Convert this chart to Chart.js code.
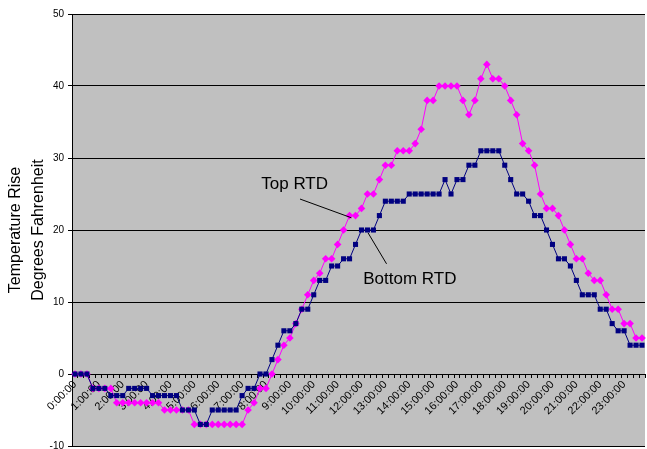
<!DOCTYPE html>
<html>
<head>
<meta charset="utf-8">
<script src="https://cdn.jsdelivr.net/npm/chart.js@4"></script>
<style>
  html, body { margin: 0; padding: 0; background: #fff; }
  canvas { display: block; }
</style>
</head>
<body>
<canvas id="rtdChart" width="647" height="449"></canvas>
<script>
// hour tick labels (one per 4 quarter-hour readings)
var hourLabels = [
  "0:00:00", "1:00:00", "2:00:00", "3:00:00", "4:00:00", "5:00:00",
  "6:00:00", "7:00:00", "8:00:00", "9:00:00", "10:00:00", "11:00:00",
  "12:00:00", "13:00:00", "14:00:00", "15:00:00", "16:00:00", "17:00:00",
  "18:00:00", "19:00:00", "20:00:00", "21:00:00", "22:00:00", "23:00:00"
];
var quarterMinutes = ["00", "15", "30", "45"];

// readings every 15 minutes, degrees F rise
var bottomRtd = [
  0, 0, 0, -2, -2, -2, -3, -3, -3, -2, -2, -2,
  -2, -3, -3, -3, -3, -3, -5, -5, -5, -7, -7, -5,
  -5, -5, -5, -5, -3, -2, -2, 0, 0, 2, 4, 6,
  6, 7, 9, 9, 11, 13, 13, 15, 15, 16, 16, 18,
  20, 20, 20, 22, 24, 24, 24, 24, 25, 25, 25, 25,
  25, 25, 27, 25, 27, 27, 29, 29, 31, 31, 31, 31,
  29, 27, 25, 25, 24, 22, 22, 20, 18, 16, 16, 15,
  13, 11, 11, 11, 9, 9, 7, 6, 6, 4, 4, 4
];
var topRtd = [
  0, 0, 0, -2, -2, -2, -2, -4, -4, -4, -4, -4,
  -4, -4, -4, -5, -5, -5, -5, -5, -7, -7, -7, -7,
  -7, -7, -7, -7, -7, -5, -4, -2, -2, 0, 2, 4,
  5, 7, 9, 11, 13, 14, 16, 16, 18, 20, 22, 22,
  23, 25, 25, 27, 29, 29, 31, 31, 31, 32, 34, 38,
  38, 40, 40, 40, 40, 38, 36, 38, 41, 43, 41, 41,
  40, 38, 36, 32, 31, 29, 25, 23, 23, 22, 20, 18,
  16, 16, 14, 13, 13, 11, 9, 9, 7, 7, 5, 5
];

var yTitle = ["Temperature Rise", "Degrees Fahrenheit"];

// categories: every quarter hour
var times = [];
hourLabels.forEach(function (h) {
  var hh = h.split(":")[0];
  quarterMinutes.forEach(function (m) {
    times.push(hh + ":" + m + ":00");
  });
});

// callout labels, placed in data units (category index, degrees)
var callouts = [
  { text: "Top RTD", at: [36.8, 26.3], from: [37.7, 24.3], to: [46.3, 21.7] },
  { text: "Bottom RTD", at: [56.1, 13.2], from: [49.1, 19.6], to: [52.2, 15.3] }
];

var fontFamily = "'Liberation Sans', Arial, sans-serif";

// keep the plot area fixed by the layout padding alone
function noPadding() {
  return { left: 0, top: 0, right: 0, bottom: 0 };
}

var plotBackground = {
  id: "plotBackground",
  beforeDraw: function (chart) {
    var a = chart.chartArea;
    var ctx = chart.ctx;
    ctx.save();
    ctx.fillStyle = "#c0c0c0";
    ctx.fillRect(a.left, a.top, a.right - a.left, a.bottom - a.top);
    ctx.restore();
  }
};

var calloutPlugin = {
  id: "callouts",
  afterDatasetsDraw: function (chart) {
    var ctx = chart.ctx;
    var xs = chart.scales.x;
    var ys = chart.scales.y;
    ctx.save();
    callouts.forEach(function (c) {
      ctx.strokeStyle = "#000";
      ctx.lineWidth = 1;
      ctx.beginPath();
      ctx.moveTo(xs.getPixelForValue(c.from[0]), ys.getPixelForValue(c.from[1]));
      ctx.lineTo(xs.getPixelForValue(c.to[0]), ys.getPixelForValue(c.to[1]));
      ctx.stroke();
      ctx.fillStyle = "#000";
      ctx.font = "17px " + fontFamily;
      ctx.textAlign = "center";
      ctx.textBaseline = "middle";
      ctx.fillText(c.text, xs.getPixelForValue(c.at[0]), ys.getPixelForValue(c.at[1]));
    });
    ctx.restore();
  }
};

var ctx = document.getElementById("rtdChart").getContext("2d");
new Chart(ctx, {
  type: "line",
  data: {
    labels: times,
    datasets: [
      {
        label: "Bottom RTD",
        data: bottomRtd,
        borderColor: "#000080",
        backgroundColor: "#000080",
        borderWidth: 1,
        pointStyle: "rect",
        pointRadius: 3.6,
        pointBorderWidth: 0,
        tension: 0,
        fill: false
      },
      {
        label: "Top RTD",
        data: topRtd,
        borderColor: "#ff00ff",
        backgroundColor: "#ff00ff",
        borderWidth: 1,
        pointStyle: "rectRot",
        pointRadius: 3.8,
        pointBorderWidth: 0,
        tension: 0,
        fill: false
      }
    ]
  },
  options: {
    responsive: false,
    animation: false,
    layout: {
      autoPadding: false,
      padding: { left: 0, top: 14, right: 2, bottom: 3 }
    },
    plugins: {
      legend: { display: false },
      tooltip: { enabled: false }
    },
    scales: {
      x: {
        type: "category",
        offset: true,
        position: { y: 0 },
        afterFit: function (scale) {
          scale.getPadding = noPadding;
        },
        grid: {
          offset: true,
          drawOnChartArea: false,
          drawTicks: true,
          tickLength: 3,
          color: "#000"
        },
        border: { display: true, color: "#000", width: 1 },
        ticks: {
          autoSkip: false,
          minRotation: 45,
          maxRotation: 45,
          padding: 1,
          color: "#000",
          font: { family: fontFamily, size: 11 },
          callback: function (value, index) {
            return index % 4 === 0 ? hourLabels[index / 4] : "";
          }
        }
      },
      y: {
        min: -10,
        max: 50,
        position: "left",
        afterFit: function (scale) {
          scale.width = 72;
          scale.getPadding = noPadding;
        },
        grid: { color: "#000", lineWidth: 1, tickLength: 4 },
        border: { display: true, color: "#000", width: 1 },
        ticks: {
          stepSize: 10,
          padding: 4,
          color: "#000",
          font: { family: fontFamily, size: 10 }
        },
        title: {
          display: true,
          text: yTitle,
          color: "#000",
          padding: { top: 4, bottom: 0 },
          font: { family: fontFamily, size: 16, lineHeight: 1.45 }
        }
      }
    }
  },
  plugins: [plotBackground, calloutPlugin]
});
</script>
</body>
</html>
